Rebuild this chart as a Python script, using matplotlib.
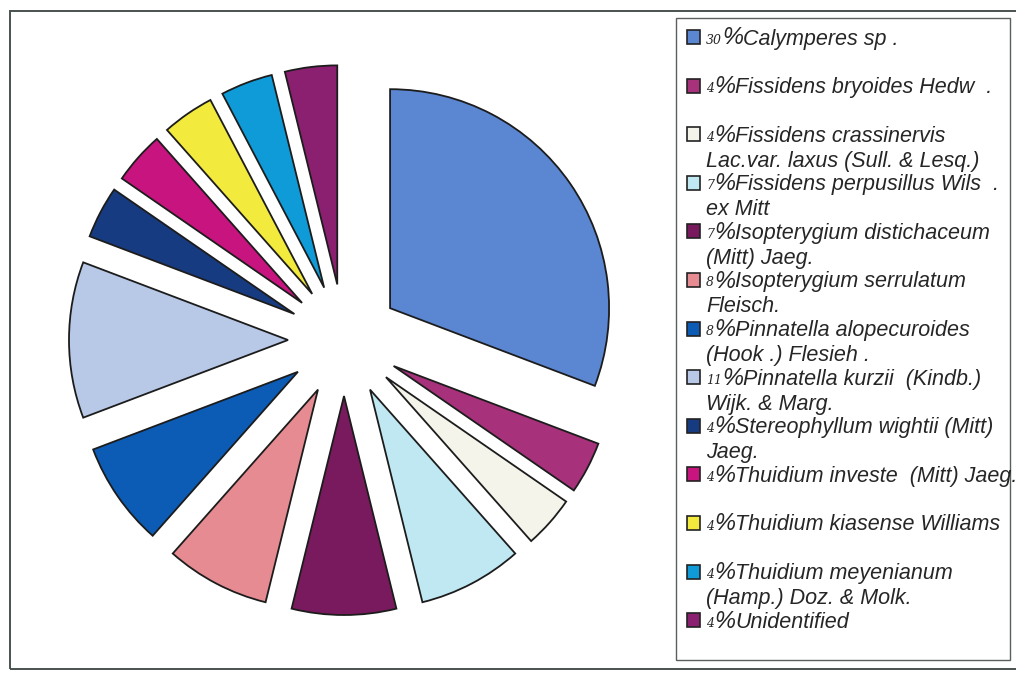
import matplotlib
matplotlib.use("Agg")
import matplotlib.pyplot as plt
from matplotlib.patches import Rectangle

# ---- data ----
# slice sizes (species counts: each small slice = 1/26 of the pie)
counts = [8, 1, 1, 2, 2, 2, 2, 3, 1, 1, 1, 1, 1]
# percentages as printed in the legend
percent_labels = ["30", "4", "4", "7", "7", "8", "8", "11", "4", "4", "4", "4", "4"]
names_line1 = [
    "Calymperes sp .",
    "Fissidens bryoides Hedw  .",
    "Fissidens crassinervis",
    "Fissidens perpusillus Wils  .",
    "Isopterygium distichaceum",
    "Isopterygium serrulatum",
    "Pinnatella alopecuroides",
    "Pinnatella kurzii  (Kindb.)",
    "Stereophyllum wightii (Mitt)",
    "Thuidium investe  (Mitt) Jaeg.",
    "Thuidium kiasense Williams",
    "Thuidium meyenianum",
    "Unidentified",
]
names_line2 = [
    "",
    "",
    "Lac.var. laxus (Sull. & Lesq.)",
    "ex Mitt",
    "(Mitt) Jaeg.",
    "Fleisch.",
    "(Hook .) Flesieh .",
    "Wijk. & Marg.",
    "Jaeg.",
    "",
    "",
    "(Hamp.) Doz. & Molk.",
    "",
]
colors = [
    "#5b86d2", "#a8317c", "#f5f4ea", "#bfe8f3", "#7a1a5e", "#e58b91",
    "#0c5cb6", "#b8c9e8", "#173b80", "#c8147f", "#f3ea3e", "#0f9bd8",
    "#8b1f70",
]

W, H = 1016, 675
fig = plt.figure(figsize=(W / 100, H / 100), dpi=100)
ax = fig.add_axes([0, 0, 1, 1])

ax.pie(counts, colors=colors, startangle=90, counterclock=False,
       radius=219, center=(344, H - 340), explode=[56] * len(counts),
       wedgeprops=dict(edgecolor="#1c1c1c", linewidth=1.3), frame=False)
ax.set_xlim(0, W)
ax.set_ylim(0, H)
ax.set_aspect("equal")
ax.axis("off")

# outer frame
ax.add_patch(Rectangle((10, H - 669), 1030, 658, fill=False,
                       edgecolor="#4a5250", linewidth=1.4, clip_on=False))
# legend box
ax.add_patch(Rectangle((676, H - 660), 334, 642, fill=False,
                       edgecolor="#5a5f5e", linewidth=1.0))

fig.canvas.draw()
renderer = fig.canvas.get_renderer()
fs = 15.5
tc = "#262626"
for i, (p, n1, n2, c) in enumerate(zip(percent_labels, names_line1, names_line2, colors)):
    yc_img = 37 + 48.6 * i
    base = H - (yc_img + 7.5)
    ax.add_patch(Rectangle((687, H - yc_img - 7), 13, 14, facecolor=c,
                           edgecolor="#222222", linewidth=1.2))
    t1 = ax.text(706, base + 1, p, fontsize=9, style="italic",
                 family="DejaVu Serif", va="baseline", ha="left", color=tc)
    x2 = 706 + t1.get_window_extent(renderer).width
    t2 = ax.text(x2, base, "%", fontsize=17, style="italic",
                 family="Liberation Sans", va="baseline", ha="left", color=tc)
    x3 = x2 + t2.get_window_extent(renderer).width
    ax.text(x3, base, n1, fontsize=fs, style="italic",
            family="Liberation Sans", va="baseline", ha="left", color=tc)
    if n2:
        ax.text(706, base - 25, n2, fontsize=fs, style="italic",
                family="Liberation Sans", va="baseline", ha="left", color=tc)

fig.savefig("out.png", dpi=100)
